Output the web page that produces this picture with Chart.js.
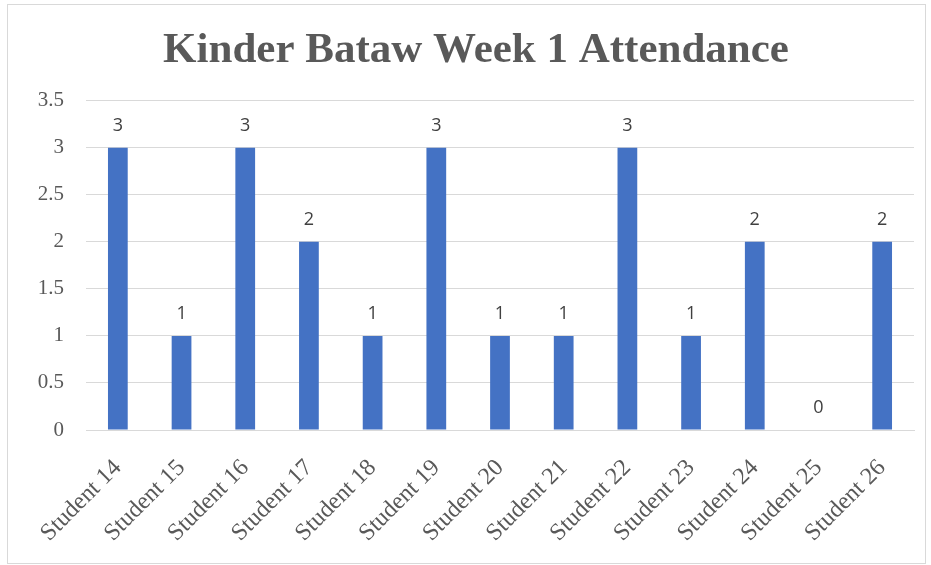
<!DOCTYPE html>
<html>
<head>
<meta charset="utf-8">
<script src="https://cdn.jsdelivr.net/npm/chart.js@4"></script>
<style>
  body { margin: 0; background: #fff; }
  #caja {
    position: absolute; left: 7px; top: 4px;
    width: 917px; height: 558px;
    border: 1px solid #d9d9d9;
  }
</style>
</head>
<body>
<div id="caja"><canvas id="asistenciaChart"></canvas></div>
<script>
const estudiantes = ['Student 14', 'Student 15', 'Student 16', 'Student 17', 'Student 18', 'Student 19',
  'Student 20', 'Student 21', 'Student 22', 'Student 23', 'Student 24', 'Student 25', 'Student 26'];
const asistencia = [3, 1, 3, 2, 1, 3, 1, 1, 3, 1, 2, 0, 2];
const titulo = 'Kinder Bataw Week 1 Attendance';

// Etiquetas de valor encima de cada barra
const etiquetasPlugin = {
  id: 'etiquetas',
  afterDatasetsDraw(chart) {
    const ctx = chart.ctx;
    const meta = chart.getDatasetMeta(0);
    ctx.save();
    ctx.font = '18px "Open Sans", sans-serif';
    ctx.fillStyle = '#404040';
    ctx.textAlign = 'center';
    ctx.textBaseline = 'bottom';
    meta.data.forEach((barra, i) => {
      ctx.fillText(String(asistencia[i]), barra.x, barra.y - 13);
    });
    ctx.restore();
  }
};

const ctx = document.getElementById('asistenciaChart').getContext('2d');
const asistenciaChart = new Chart(ctx, {
  type: 'bar',
  data: {
    labels: estudiantes,
    datasets: [{
      label: 'Attendance',
      data: asistencia,
      backgroundColor: '#4472C4',
      categoryPercentage: 1,
      barPercentage: 0.31
    }]
  },
  options: {
    responsive: true,
    maintainAspectRatio: false,
    animation: false,
    layout: { padding: { left: 30, right: 11, top: 0, bottom: 0 } },
    plugins: {
      legend: { display: false },
      tooltip: { enabled: false },
      title: {
        display: true,
        text: titulo,
        color: '#595959',
        font: { family: '"Liberation Serif", serif', size: 43, weight: 'bold' },
        padding: { top: 20, bottom: 24 }
      }
    },
    scales: {
      y: {
        min: 0,
        max: 3.5,
        ticks: {
          stepSize: 0.5,
          color: '#595959',
          padding: 22,
          font: { family: '"Liberation Serif", serif', size: 21 },
          callback: (valor) => String(valor)
        },
        grid: { color: '#d9d9d9', lineWidth: 1, drawTicks: false },
        border: { display: false },
        afterFit(scale) { scale.width = 48; }
      },
      x: {
        ticks: {
          color: '#595959',
          minRotation: 45,
          maxRotation: 45,
          padding: 16,
          font: { family: '"Liberation Serif", serif', size: 24 }
        },
        grid: { display: false },
        border: { display: true, color: '#d9d9d9', width: 1 },
        afterFit(scale) { scale.height = 133; }
      }
    }
  },
  plugins: [etiquetasPlugin]
});
</script>
</body>
</html>
